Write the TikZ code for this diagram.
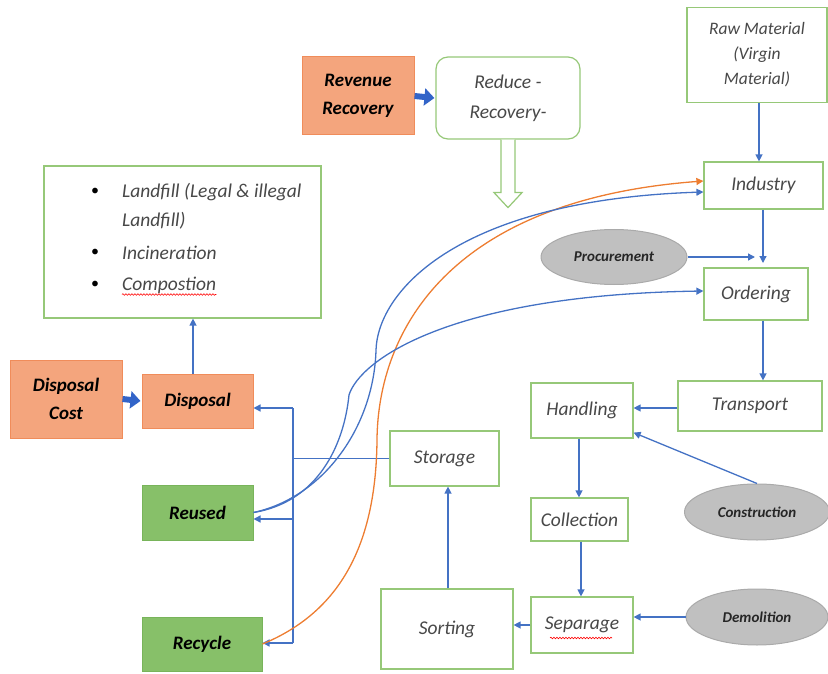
\documentclass[tikz,border=0pt]{standalone}
\usepackage{fontspec}
\setmainfont{Carlito}
\usetikzlibrary{arrows.meta,shapes.geometric,decorations.pathmorphing,calc}
\definecolor{bgreen}{RGB}{150,200,120}
\definecolor{lblue}{RGB}{68,114,196}
\definecolor{fblue}{RGB}{50,100,200}
\definecolor{lorange}{RGB}{237,125,49}
\definecolor{forange}{RGB}{244,165,125}
\definecolor{borange}{RGB}{240,140,90}
\definecolor{fgreen}{RGB}{135,192,105}
\definecolor{bdgreen}{RGB}{120,180,90}
\definecolor{egray}{RGB}{192,192,192}
\definecolor{ebgray}{RGB}{170,170,170}
\definecolor{tgray}{RGB}{72,72,72}
\tikzset{
  wbox/.style={draw=bgreen,line width=1.2pt,fill=white,inner sep=0pt,align=center,text=tgray,font=\fontsize{19.5}{22}\selectfont\itshape},
  obox/.style={draw=borange,line width=1pt,fill=forange,inner sep=0pt,align=center,text=black,font=\fontsize{19}{28}\selectfont\bfseries\itshape},
  gbox/.style={draw=bdgreen,line width=1pt,fill=fgreen,inner sep=0pt,align=center,text=black,font=\fontsize{19}{22}\selectfont\bfseries\itshape},
  ell/.style={ellipse,draw=ebgray,line width=1pt,fill=egray,inner sep=0pt,text=black!85,font=\fontsize{15}{17}\selectfont\bfseries\itshape},
  arr/.style={draw=lblue,line width=1.3pt,-{Triangle[length=7pt,width=7pt]}},
  ln/.style={draw=lblue,line width=1.3pt},
  oarr/.style={draw=lorange,line width=1.3pt,-{Triangle[length=7pt,width=7pt]}},
  fat/.style={draw=fblue,fill=fblue,line width=6pt,-{Triangle[length=10pt,width=17pt]}},
  squig/.style={draw=red,line width=0.6pt,decorate,decoration={snake,amplitude=0.8pt,segment length=3pt}},
  ltext/.style={anchor=west,inner sep=0pt,text=tgray,font=\fontsize{19.5}{22}\selectfont\itshape},
  bul/.style={font=\fontsize{16}{16}\selectfont,text=black}
}
\begin{document}
\begin{tikzpicture}[x=1pt,y=-1pt]
\useasboundingbox (0,0) rectangle (828,674);
% nodes
\node[wbox,minimum width=140pt,minimum height=95pt,font=\fontsize{17.5}{25}\selectfont\itshape] (raw) at (757,55) {Raw Material\\(Virgin\\Material)};
\node[wbox,minimum width=119pt,minimum height=47pt] (industry) at (763.5,185.5) {Industry};
\node[ell,minimum width=146pt,minimum height=55pt] (proc) at (614,257) {Procurement};
\node[wbox,minimum width=104pt,minimum height=52pt] (ordering) at (756,294) {Ordering};
\node[wbox,minimum width=144pt,minimum height=50pt] (transport) at (750,406) {Transport};
\node[wbox,minimum width=102pt,minimum height=55pt] (handling) at (582,410.5) {Handling};
\node[ell,minimum width=145pt,minimum height=56pt] (constr) at (757,512) {Construction};
\node[wbox,minimum width=97pt,minimum height=43pt] (collection) at (579.5,519.5) {Collection};
\node[wbox,minimum width=102pt,minimum height=56pt] (separage) at (582,625) {Separage};
\node[ell,minimum width=142pt,minimum height=56pt] (demol) at (757,617) {Demolition};
\node[wbox,minimum width=132pt,minimum height=80pt] (sorting) at (447,629) {Sorting};
\node[wbox,minimum width=109pt,minimum height=55pt] (storage) at (444.5,458.5) {Storage};
\node[obox,minimum width=111pt,minimum height=54pt] (disposal) at (197.5,401) {Disposal};
\node[obox,minimum width=112pt,minimum height=78pt] (dcost) at (66,399) {Disposal\\Cost};
\node[gbox,minimum width=111pt,minimum height=55pt] (reused) at (197.5,512.5) {Reused};
\node[gbox,minimum width=120pt,minimum height=54pt] (recycle) at (202,644) {Recycle};
\node[obox,minimum width=112pt,minimum height=78pt] (revenue) at (358,96) {Revenue\\Recovery};
\node[wbox,rounded corners=12pt,minimum width=144pt,minimum height=82pt,font=\fontsize{19.5}{30}\selectfont\itshape] (reduce) at (508,98) {Reduce -\\Recovery-};
\node[wbox,minimum width=277pt,minimum height=152pt] (list) at (182.5,242) {};
% list content
\node[bul] (b1) at (95,192) {\textbullet};
\node[bul] (b2) at (95,253) {\textbullet};
\node[bul] (b3) at (95,285) {\textbullet};
\node[ltext] (l1) at (122,192) {Landfill (Legal \& illegal};
\node[ltext] (l2) at (122,221) {Landfill)};
\node[ltext] (l3) at (122,253) {Incineration};
\node[ltext] (l4) at (122,285) {Compostion};
\draw[squig] ([yshift=-1pt]l4.south west) -- ([yshift=-1pt]l4.south east);
\path (separage.center) ++(-32,13) coordinate (sq1) ++(62,0) coordinate (sq2);
\draw[squig] (sq1) -- (sq2);
% helper coordinates
\coordinate (xr) at (759,0);
\coordinate (xo) at (763,0);
\coordinate (xs) at (448,0);
\coordinate (xc) at (581,0);
\coordinate (xd) at (193,0);
\coordinate (xh) at (579,0);
\coordinate (yh) at (0,408);
\coordinate (io) at (763,263);
\coordinate (v1) at (293,408);
\coordinate (v2) at (293,519);
\coordinate (v3) at (293,643);
% connectors
\draw[arr] (raw.south -| xr) -- (industry.north -| xr);
\draw[arr] (industry.south -| io) -- (io);
\draw[arr] (proc.east) -- ([xshift=-1pt]proc.east -| ordering.north);
\draw[arr] (ordering.south -| xo) -- (transport.north -| xo);
\draw[arr] (transport.west |- yh) -- (handling.east |- yh);
\draw[arr] (constr.north) -- ([yshift=6pt]handling.south east);
\draw[arr] (handling.south -| xh) -- (collection.north -| xh);
\draw[arr] (collection.south -| xc) -- (separage.north -| xc);
\draw[arr] (demol.west) -- (demol.west -| separage.east);
\draw[arr] (separage.west) -- (separage.west -| sorting.east);
\draw[arr] (sorting.north -| xs) -- (storage.south -| xs);
\draw[ln] (storage.west) -- (storage.west -| v1);
\draw[ln] (v1) -- (v3);
\draw[arr] (v1) -- (v1 -| disposal.east);
\draw[arr] (v2) -- (v2 -| reused.east);
\draw[arr] (v3) -- (v3 -| recycle.east);
\draw[arr] (disposal.north -| xd) -- (list.south -| xd);
\draw[fat] (dcost.east) -- ([xshift=-1pt]disposal.west);
\draw[fat] (revenue.east) -- ([xshift=-1pt]reduce.west);
% hollow arrow
\draw[draw=bgreen,line width=1.2pt,fill=white,line join=miter]
  (reduce.south) ++(-7,0) -- ++(0,53) -- ++(-7,0) -- ++(14,15) -- ++(14,-15) -- ++(-7,0) -- ++(0,-53);
% curves
\coordinate (cI1) at (700,181);
\coordinate (cI2) at (700,192);
\coordinate (cO) at (700,291);
\draw[oarr] (recycle.east) .. controls (340,612) and (376,545) .. (377,440) .. controls (378,330) and (450,200) .. (cI1 -| industry.west);
\draw[arr] (reused.east) .. controls (325,497) and (374,425) .. (376,350) .. controls (378,290) and (460,200) .. (cI2 -| industry.west);
\draw[arr] (reused.east) .. controls (318,502) and (344,445) .. (349,395) .. controls (360,360) and (450,295) .. (cO -| ordering.west);
\end{tikzpicture}
\end{document}
